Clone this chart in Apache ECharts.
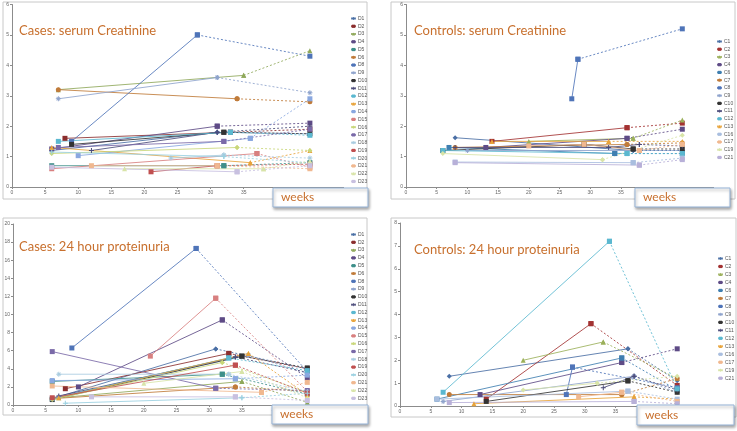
<!DOCTYPE html>
<html>
<head>
<meta charset="utf-8">
<script src="https://cdn.jsdelivr.net/npm/echarts@6/dist/echarts.min.js"></script>
<style>
  html, body { margin: 0; padding: 0; background: #fff; }
  #main { width: 737px; height: 431px; }
</style>
</head>
<body>
<div id="main"></div>
<script>
// patient ids
var caseNames = ['D1','D2','D3','D4','D5','D6','D8','D9','D10','D11','D12','D13','D14','D15','D16','D17','D18','D19','D20','D21','D22','D23'];
var controlNames = ['C1','C2','C3','C4','C6','C7','C8','C9','C10','C11','C12','C13','C16','C17','C19','C21'];

// [week, value]; last point = postpartum (drawn dashed)
var casesCreatinine = [
  [[6,1.2],[31,1.8],[45,1.75]],
  [[8,1.6],[33,1.8],[45,1.9]],
  [[7,3.2],[35,3.67],[45,4.48]],
  [[6,1.25],[31,2.0],[45,2.1]],
  [[6,0.7],[32,0.7],[45,0.8]],
  [[7,3.2],[34,2.9],[45,2.8]],
  [[9,1.5],[28,5.0],[45,4.3]],
  [[7,2.9],[31,3.6],[45,3.1]],
  [[9,1.4],[32,1.8],[45,1.75]],
  [[12,1.2],[31,1.8],[45,2.0]],
  [[7,1.5],[33,1.8],[45,1.7]],
  [[6,1.3],[36,0.8],[45,1.2]],
  [[10,1.03],[36,1.6],[45,2.9]],
  [[6,0.6],[37,1.1],[45,0.65]],
  [[6,1.1],[34,1.3],[45,1.2]],
  [[7,1.3],[32,1.5],[45,1.9]],
  [[24,0.95],[32,1.05],[45,0.95]],
  [[21,0.5],[31,0.7],[45,0.75]],
  [[6,1.15],[32,1.0],[45,0.8]],
  [[12,0.7],[31,0.7],[45,0.6]],
  [[17,0.6],[38,0.6],[45,0.85]],
  [[6,0.65],[34,0.5],[45,0.7]]
];
var controlsCreatinine = [
  [[8,1.62],[37,1.2],[45,1.2]],
  [[14,1.5],[36,1.95],[45,2.1]],
  [[20,1.5],[37,1.6],[45,2.2]],
  [[13,1.3],[36,1.6],[45,1.9]],
  [[7,1.3],[34,1.1],[45,1.1]],
  [[8,1.3],[36,1.4],[45,1.45]],
  [[27,2.9],[28,4.2],[45,5.2]],
  [[10,1.2],[38,1.2],[45,1.2]],
  [[6,1.2],[29,1.4],[37,1.25],[45,1.25]],
  [[8,1.3],[33,1.3],[38,1.4],[45,1.35]],
  [[6,1.2],[36,1.1],[45,1.1]],
  [[14,1.5],[33,1.5],[45,1.5]],
  [[8,0.82],[37,0.8],[45,0.95]],
  [[20,1.35],[29,1.4],[38,1.2],[45,1.4]],
  [[6,1.1],[32,0.9],[45,1.7]],
  [[8,0.8],[38,0.72],[45,0.9]]
];
var casesProteinuria = [
  [[6,0.7],[31,6.2],[45,4.0]],
  [[8,1.8],[33,5.7],[45,4.0]],
  [[7,0.8],[35,2.6],[45,0.3]],
  [[10,2.0],[32,9.4],[45,3.0]],
  [[6,2.6],[32,3.4],[45,1.2]],
  [[6,0.7],[34,2.0],[45,1.5]],
  [[9,6.3],[28,17.3],[45,3.7]],
  [[7,0.9],[36,5.5],[45,3.5]],
  [[6,0.6],[35,5.4],[45,4.1]],
  [[7,1.0],[34,5.3],[45,3.6]],
  [[6,0.7],[33,5.2],[45,3.8]],
  [[7,0.8],[36,5.7],[45,1.1]],
  [[6,2.7],[34,2.9],[45,3.3]],
  [[21,5.4],[31,11.8],[45,1.5]],
  [[6,0.6],[32,4.7],[45,1.4]],
  [[6,5.9],[31,1.85],[45,1.6]],
  [[7,3.4],[33,3.4],[45,1.5]],
  [[6,0.8],[34,4.4],[45,1.3]],
  [[8,0.2],[35,0.8],[45,1.3]],
  [[6,2.1],[38,1.4],[45,2.5]],
  [[20,2.4],[35,3.7],[45,0.8]],
  [[12,0.9],[34,0.9],[45,0.5]]
];
var controlsProteinuria = [
  [[8,1.3],[37,2.5],[45,1.1]],
  [[14,0.3],[31,3.6],[45,0.9]],
  [[20,2.0],[33,2.8],[45,1.2]],
  [[13,0.5],[36,1.9],[45,2.5]],
  [[6,0.3],[36,2.1],[45,0.7]],
  [[8,0.5],[36,0.5],[45,1.2]],
  [[27,0.5],[28,1.7],[45,0.8]],
  [[7,0.2],[38,1.3],[45,0.6]],
  [[14,0.2],[37,1.1],[45,0.6]],
  [[33,0.8],[38,1.3],[45,0.7]],
  [[7,0.6],[34,7.2],[45,0.75]],
  [[12,0.1],[38,0.4],[45,0.3]],
  [[6,0.3],[37,0.65],[45,0.3]],
  [[29,0.4],[36,0.6],[45,0.2]],
  [[20,0.7],[32,1.0],[45,1.3]],
  [[8,0.15],[38,0.2],[45,0.1]]
];

var panelTitles = ['Cases: serum Creatinine','Controls: serum Creatinine','Cases: 24 hour proteinuria','Controls: 24 hour proteinuria'];
var yMax = [6, 6, 20, 8];
var yStep = [1, 1, 2, 1];

var colors = {
  D1:'#4a6fa5',D2:'#8b2e2e',D3:'#8fa85a',D4:'#5e4b86',D5:'#3e8f8a',D6:'#c07b3a',D8:'#4f74b8',D9:'#8ea3cc',
  D10:'#333333',D11:'#4b4b7a',D12:'#5bb8d0',D13:'#e8a33a',D14:'#8aa8e0',D15:'#d88080',D16:'#c9d77a',D17:'#7a6aa8',
  D18:'#a9cce0',D19:'#c05050',D20:'#9ad0e0',D21:'#f0b890',D22:'#d8e4a8',D23:'#c8c0e0',
  C1:'#4a6fa5',C2:'#a33232',C3:'#9bb05a',C4:'#5e4b86',C6:'#3f7fb0',C7:'#c07b3a',C8:'#4f74b8',C9:'#8ea3cc',
  C10:'#333333',C11:'#4b4b7a',C12:'#5bb8d0',C13:'#e8a33a',C16:'#a9bedf',C17:'#f0b890',C19:'#d8e4a8',C21:'#b8b0d8'
};
var crossPath = 'path://M4,0H6V4H10V6H6V10H4V6H0V4H4Z';
var dashPath = 'path://M0,4H10V6H0Z';
var starPath = 'path://M4,0H6V3L8,1L9,2L7,4H10V6H7L9,8L8,9L6,7V10H4V7L2,9L1,8L3,6H0V4H3L1,2L2,1L4,3Z';
var symbolsFor = ['diamond','rect','triangle','rect','rect','circle','rect',starPath,dashPath,crossPath,'rect','triangle','rect','rect','diamond','rect',starPath,dashPath,crossPath,'rect','triangle','rect'];

var grids = [
  {left:12, top:4.5, width:331, height:182.5},
  {left:406, top:4.5, width:307, height:182.5},
  {left:13, top:224, width:327, height:181},
  {left:400, top:223, width:308, height:183}
];

var panels = [
  {names:caseNames, data:casesCreatinine},
  {names:controlNames, data:controlsCreatinine},
  {names:caseNames, data:casesProteinuria},
  {names:controlNames, data:controlsProteinuria}
];

var series = [];
panels.forEach(function(p, i){
  p.names.forEach(function(name, j){
    var pts = p.data[j];
    var c = colors[name];
    var sym = symbolsFor[j % symbolsFor.length];
    series.push({
      type:'line', name:name, xAxisIndex:i, yAxisIndex:i,
      data:pts.slice(0, -1), symbol:sym, symbolSize:5, showAllSymbol:true,
      lineStyle:{width:1, color:c, opacity:0.85}, itemStyle:{color:c}, animation:false
    });
    series.push({
      type:'line', name:name, xAxisIndex:i, yAxisIndex:i,
      data:pts.slice(-2), symbol:sym, symbolSize:5,
      lineStyle:{width:1, color:c, type:[2,2], opacity:0.85}, itemStyle:{color:c}, animation:false
    });
  });
});

var xAxes = [], yAxes = [];
for (var i = 0; i < 4; i++) {
  xAxes.push({
    type:'value', gridIndex:i, min:0, max:50, interval:5,
    axisLine:{lineStyle:{color:'#8c8c8c'}}, axisTick:{length:2, lineStyle:{color:'#8c8c8c'}},
    axisLabel:{fontSize:5, color:'#666', margin:3}, splitLine:{show:false}
  });
  yAxes.push({
    type:'value', gridIndex:i, min:0, max:yMax[i], interval:yStep[i],
    axisLine:{show:true, lineStyle:{color:'#8c8c8c'}}, axisTick:{show:true, length:2, lineStyle:{color:'#8c8c8c'}},
    axisLabel:{fontSize:5, color:'#666', margin:3}, splitLine:{show:false}
  });
}

function legendAt(names, left, top, step) {
  return {
    data:names, orient:'vertical', left:left, top:top,
    itemWidth:5, itemHeight:4, itemGap:step - 5, padding:0,
    textStyle:{fontSize:5, lineHeight:5, color:'#555', padding:[0,0,0,-3]},
    selectedMode:false
  };
}

var titlePos = [[19,31],[414,31],[19,247],[414,250]];
var frames = [[3,2,364,197],[391,2,344,197],[3,218,364,197],[391,218,345,199]];
var weeksBoxes = [[273,188,95,19],[635,188,95,19],[272,405,96,19],[637,405,97,20]];

var graphic = [];
frames.forEach(function(f){
  graphic.push({type:'rect', shape:{x:f[0], y:f[1], width:f[2], height:f[3]},
    style:{fill:'none', stroke:'#c8c8c8', lineWidth:1}, z:-1, silent:true});
});
panelTitles.forEach(function(t, i){
  graphic.push({type:'text', x:titlePos[i][0], y:titlePos[i][1],
    style:{text:t, fill:'#c8702e', font:'13px Lato', textVerticalAlign:'middle'}, z:50});
});
weeksBoxes.forEach(function(b){
  graphic.push({type:'rect', shape:{x:b[0], y:b[1], width:b[2], height:b[3]},
    style:{fill:'#fff', stroke:'#95b3d7', lineWidth:1, shadowBlur:3, shadowOffsetX:1, shadowOffsetY:2, shadowColor:'rgba(0,0,0,0.35)'}, z:100});
  graphic.push({type:'text', x:b[0] + 8, y:b[1] + b[3] / 2,
    style:{text:'weeks', fill:'#c8702e', font:'12px Lato', textVerticalAlign:'middle'}, z:101});
});

var chart = echarts.init(document.getElementById('main'));
chart.setOption({
  animation:false,
  grid:grids,
  xAxis:xAxes,
  yAxis:yAxes,
  legend:[
    legendAt(caseNames, 350, 16, 7.76),
    legendAt(controlNames, 716, 39, 7.73),
    legendAt(caseNames, 350, 232, 7.8),
    legendAt(controlNames, 717, 256, 7.98)
  ],
  graphic:graphic,
  series:series
});
</script>
</body>
</html>
